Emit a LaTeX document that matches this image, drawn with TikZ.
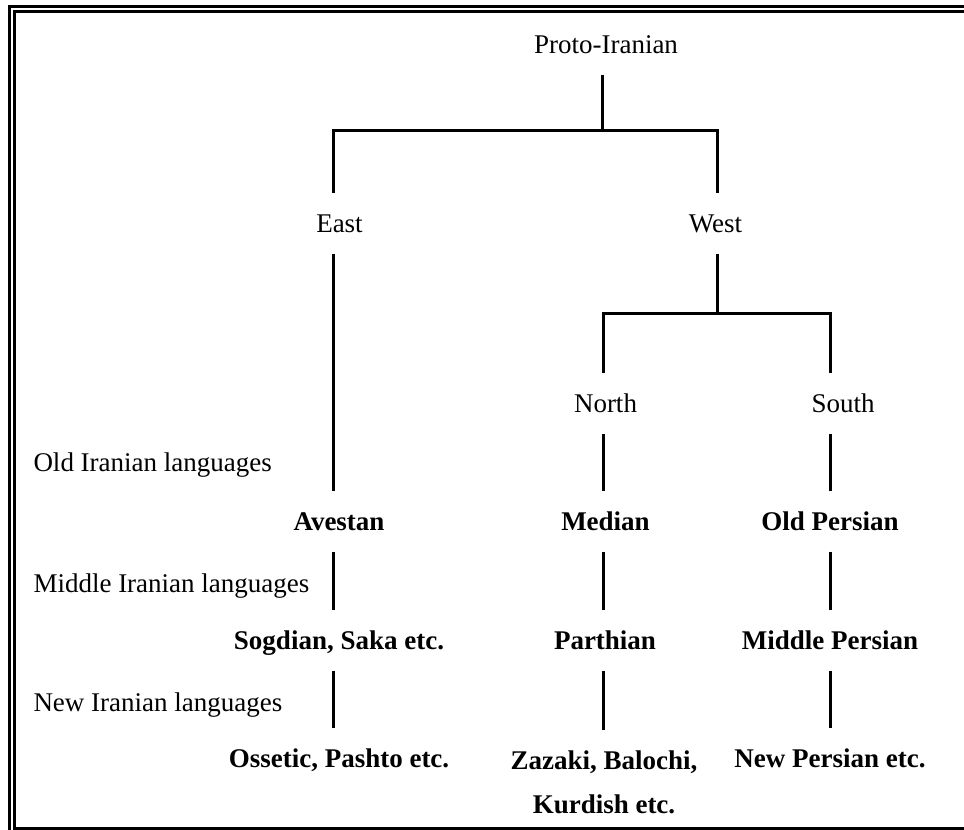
\documentclass[tikz,border=0pt]{standalone}
\usepackage{fontspec}
\setmainfont{Liberation Serif}
\newcommand{\langfont}{\fontsize{27pt}{44pt}\selectfont}

\begin{document}
\begin{tikzpicture}[x=1pt,y=-1pt,line width=3pt]
    \tikzstyle{lang}=[font=\langfont,text height=18pt,text depth=0pt,inner ysep=20pt,anchor=base]
    \tikzstyle{langb}=[lang,font=\langfont\bfseries]
    \tikzstyle{era}=[font=\langfont,inner sep=0pt,anchor=base west]
    \tikzstyle{frame}=[line width=3.5pt,line cap=butt]

    \useasboundingbox (0,0) rectangle (964,830);
    \draw[frame] (9.5,830) |- (964,6.5);
    \draw[frame] (964,828.5) -| (14.5,11.5) -- (964,11.5);

    \node[lang](proto) at (606,53){Proto-Iranian};
    \node[lang](east) at (339.5,232){East};
    \node[lang](west) at (715.5,232){West};
    \node[lang](north) at (605.5,412){North};
    \node[lang](south) at (843,412){South};
    \node[langb](avestan) at (339,530){Avestan};
    \node[langb](median) at (605.5,530){Median};
    \node[langb](oldpers) at (830,530){Old Persian};
    \node[langb](sogdian) at (339,649){Sogdian, Saka etc.};
    \node[langb](parthian) at (605,649){Parthian};
    \node[langb](midpers) at (830,649){Middle Persian};
    \node[langb](ossetic) at (339,767){Ossetic, Pashto etc.};
    \node[font=\langfont\bfseries,align=center,inner ysep=19pt,anchor=north](zazaki) at (604,730){Zazaki, Balochi,\\Kurdish etc.};
    \node[langb](newpers) at (830,767){New Persian etc.};
    \node[era](old) at (32,471){Old Iranian languages};
    \node[era](middle) at (32,592){Middle Iranian languages};
    \node[era](new) at (32,711){New Iranian languages};

    \coordinate(j1) at (602,130);
    \coordinate(j2) at (717,313);
    \coordinate(cE) at (333,0);
    \coordinate(cN) at (603,0);
    \coordinate(cS) at (830,0);

    \draw (proto.south -| j1) -- (j1);
    \draw (east.north -| cE) |- (j1) -| (west.north -| j2);
    \draw (west.south -| j2) -- (j2);
    \draw (north.north -| cN) |- (j2) -| (south.north -| cS);

    \draw (east.south -| cE) -- (avestan.north -| cE);
    \draw (avestan.south -| cE) -- (sogdian.north -| cE);
    \draw (sogdian.south -| cE) -- (ossetic.north -| cE);
    \draw (north.south -| cN) -- (median.north -| cN);
    \draw (median.south -| cN) -- (parthian.north -| cN);
    \draw (parthian.south -| cN) -- (zazaki.north -| cN);
    \draw (south.south -| cS) -- (oldpers.north -| cS);
    \draw (oldpers.south -| cS) -- (midpers.north -| cS);
    \draw (midpers.south -| cS) -- (newpers.north -| cS);
\end{tikzpicture}
\end{document}
